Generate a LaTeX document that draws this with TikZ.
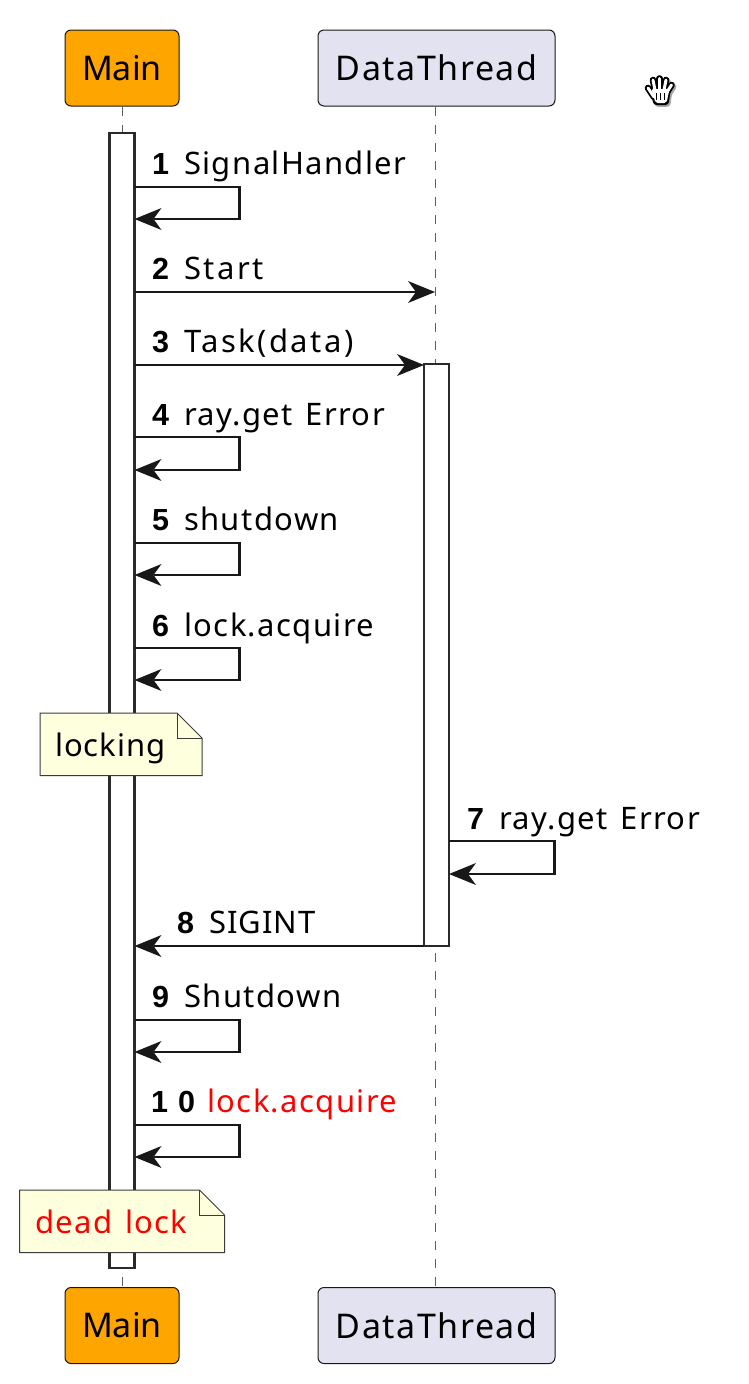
\documentclass[tikz,border=0pt]{standalone}
\usepackage{fontspec}
\setmainfont{Noto Sans}[LetterSpace=4.5,WordSpace=1.35]
\newfontfamily\numfont{Liberation Sans}
\newfontfamily\tightfont{Noto Sans}
\newfontfamily\midfont{Noto Sans}[LetterSpace=3]
\newfontfamily\widefont{Noto Sans}[LetterSpace=8]
\usetikzlibrary{arrows.meta,calc}
\definecolor{ink}{HTML}{181818}
\definecolor{barline}{HTML}{2A2A2A}
\definecolor{notebg}{HTML}{FEFFDD}
\definecolor{actorbg}{HTML}{E2E2F0}
\definecolor{mainbg}{HTML}{FFA500}
\tikzset{
  actorbox/.style={draw=ink,line width=1pt,rounded corners=6pt,minimum height=76pt,inner sep=0pt,font=\fontsize{34}{40}\selectfont,text=black},
  mainbox/.style={actorbox,fill=mainbg,minimum width=114pt,font=\tightfont\fontsize{34}{40}\selectfont},
  lifeline/.style={draw=ink!70,line width=1pt,dash pattern=on 9pt off 9pt},
  actbar/.style={draw=barline,fill=white,line width=2.6pt,minimum width=25pt,inner sep=0pt,outer sep=0pt},
  msg/.style={draw=ink,line width=2.2pt,-{Stealth[length=27pt,width=22pt,inset=8pt,line width=0pt]},line join=miter},
  lbl/.style={anchor=base west,inner sep=0pt,font=\fontsize{31}{36}\selectfont,text=black},
  numlbl/.style={anchor=base west,inner sep=0pt,font=\numfont\fontsize{30.5}{35}\selectfont\bfseries,text=black},
  notepath/.style={draw=ink!85,line width=1pt,fill=notebg,line join=miter},
  notetxt/.style={anchor=base west,inner sep=0pt,font=\fontsize{31}{36}\selectfont},
}
\begin{document}
\begin{tikzpicture}[x=1pt,y=-1pt]
\useasboundingbox (0,0) rectangle (748,1384);
% actors
\node[mainbox] (mainTop) at (122,68) {Main};
\node[actorbox,fill=actorbg,minimum width=237pt] (dataTop) at (436.5,68) {DataThread};
\node[mainbox] (mainBot) at (122,1325.5) {Main};
\node[actorbox,fill=actorbg,minimum width=237pt] (dataBot) at (436.5,1325.5) {DataThread};
% lifelines
\coordinate (lifeD) at (435,0);
\draw[lifeline] (mainTop.south) -- (mainBot.north);
\draw[lifeline] (lifeD |- dataTop.south) -- (lifeD |- dataBot.north);
% activations
\node[actbar,minimum height=1135pt] (mainBar) at (122,700.5) {};
\node[actbar,minimum height=582pt] (dataBar) at (436.5,655) {};
% anchors for the loops
\coordinate (loopM) at (239.5,0);
\coordinate (loopD) at (554.5,0);
% self messages on Main
\foreach \n/\a/\b in {1/187/219,4/437/470,5/543/575,6/648/680,9/1020/1052,10/1125/1157}{
  \coordinate (a\n) at (0,\a);
  \coordinate (b\n) at (0,\b);
  \draw[msg] (mainBar.east |- a\n) -- (loopM |- a\n) -- (loopM |- b\n) -- (mainBar.east |- b\n);
}
% straight messages
\coordinate (y2) at (0,292);
\coordinate (y3) at (0,365);
\coordinate (y7a) at (0,841);
\coordinate (y7b) at (0,874);
\coordinate (y8) at (0,946);
\draw[msg] (mainBar.east |- y2) -- (lifeD |- y2);
\draw[msg] (mainBar.east |- y3) -- (dataBar.west |- y3);
\draw[msg] (dataBar.east |- y7a) -- (loopD |- y7a) -- (loopD |- y7b) -- (dataBar.east |- y7b);
\draw[msg] (dataBar.west |- y8) -- (mainBar.east |- y8);
% labels
\node[numlbl] (n1) at (152,174) {1};   \node[lbl] (t1) at (184,174) {SignalHandler};
\node[numlbl] (n2) at (152,279) {2};   \node[lbl] (t2) at (184,279) {\widefont Start};
\node[numlbl] (n3) at (152,352) {3};   \node[lbl] (t3) at (184,352) {\widefont Task(data)};
\node[numlbl] (n4) at (152,425) {4};   \node[lbl] (t4) at (184,425) {ray.get Error};
\node[numlbl] (n5) at (152,530) {5};   \node[lbl] (t5) at (184,530) {shutdown};
\node[numlbl] (n6) at (152,636) {6};   \node[lbl] (t6) at (184,636) {lock.acquire};
\node[numlbl] (n7) at (467,829) {7};   \node[lbl] (t7) at (499,829) {ray.get Error};
\node[numlbl] (n8) at (177,933) {8};   \node[lbl] (t8) at (209,933) {\midfont SIGINT};
\node[numlbl] (n9) at (152,1007) {9};  \node[lbl] (t9) at (184,1007) {Shutdown};
\node[numlbl] (n10) at (151,1112) {1\hspace{10pt}0}; \node[lbl,text=red] (t10) at (207,1112) {lock.acquire};
% notes
\draw[notepath] (40,713) -- (177,713) -- (202,738) -- (202,775.5) -- (40,775.5) -- cycle;
\draw[notepath,fill=none] (177,713) -- (177,738) -- (202,738);
\node[notetxt] (noteA) at (55,756) {\midfont locking};
\draw[notepath] (19.5,1190) -- (199.5,1190) -- (224.5,1215) -- (224.5,1252.5) -- (19.5,1252.5) -- cycle;
\draw[notepath,fill=none] (199.5,1190) -- (199.5,1215) -- (224.5,1215);
\node[notetxt,text=red] (noteB) at (35,1233) {dead lock};
% hand cursor
\begin{scope}[xshift=-1pt]
\foreach \dx/\dy/\col in {1.6/1.8/black!35, 0/0/black}{
  \begin{scope}[shift={(\dx,\dy)}]
    \fill[\col,rounded corners=3pt] (651,88) -- (672,88) -- (669.5,105) -- (654.5,105) -- cycle;
    \draw[\col,line width=6.6pt,line cap=round] (655,97) -- (649,88);
    \draw[\col,line width=6.6pt,line cap=round] (656,90) -- (654,80);
    \draw[\col,line width=6.6pt,line cap=round] (660.5,90) -- (660.5,78.5);
    \draw[\col,line width=6.6pt,line cap=round] (665,90) -- (667,80);
    \draw[\col,line width=6.6pt,line cap=round] (668,92) -- (672.5,85);
  \end{scope}
}
\fill[white,rounded corners=2pt] (652.5,89) -- (670.5,89) -- (667.5,103) -- (656.5,103) -- cycle;
\foreach \xa/\ya/\xb/\yb in {655/97/649/88, 656/90/654/80, 660.5/90/660.5/78.5, 665/90/667/80, 668/92/672.5/85}{
  \draw[white,line width=3pt,line cap=round] (\xa,\ya) -- (\xb,\yb);
}
\draw[black,line width=1.2pt] (657.5,93) -- (657.5,100);
\draw[black,line width=1.2pt] (661.5,93) -- (661.5,100);
\draw[black,line width=1.2pt] (665.5,93) -- (665.5,100);
\end{scope}
\end{tikzpicture}
\end{document}
